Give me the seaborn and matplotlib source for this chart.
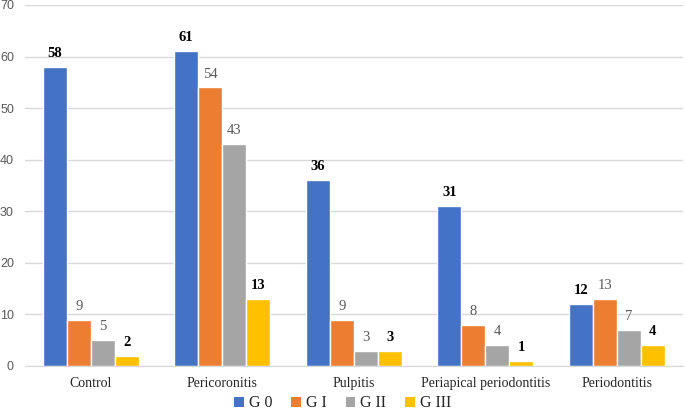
import pandas as pd
import seaborn as sns
import matplotlib.pyplot as plt
from matplotlib.patches import Patch

categories = ["Control", "Pericoronitis", "Pulpitis", "Periapical periodontitis", "Periodontitis"]
grades = ["G 0", "G I", "G II", "G III"]
g0 = [58, 61, 36, 31, 12]
g1 = [9, 54, 9, 8, 13]
g2 = [5, 43, 3, 4, 7]
g3 = [2, 13, 3, 1, 4]

colors = ["#4472C4", "#ED7D31", "#A5A5A5", "#FFC000"]

rows = []
for grade, vals in zip(grades, [g0, g1, g2, g3]):
    for cat, v in zip(categories, vals):
        rows.append({"category": cat, "grade": grade, "value": v})
df = pd.DataFrame(rows)

sns.set_style("white")
fig = plt.figure(figsize=(6.85, 4.11), dpi=100)
ax = fig.add_axes([0.0365, 0.1095, 0.96, 0.8785])

sns.barplot(
    data=df,
    x="category",
    y="value",
    hue="grade",
    hue_order=grades,
    order=categories,
    palette=colors,
    saturation=1,
    width=0.73,
    edgecolor="white",
    linewidth=1,
    legend=False,
    ax=ax,
)

label_styles = [("black", "bold"), ("#595959", "normal"), ("#595959", "normal"), ("black", "bold")]
for cont, (c, w) in zip(ax.containers, label_styles):
    ax.bar_label(cont, padding=5, fontsize=10.5, color=c, fontweight=w, family="Liberation Serif")

ax.set_ylim(0, 70)
ax.set_yticks(range(0, 71, 10))
ax.set_xlim(-0.5, 4.5)
ax.yaxis.grid(True, color="#D9D9D9", linewidth=1)
ax.set_axisbelow(True)
ax.set_xlabel("")
ax.set_ylabel("")
for s in ["left", "right", "top"]:
    ax.spines[s].set_visible(False)
ax.spines["bottom"].set_color("#D9D9D9")
ax.tick_params(axis="y", length=0, labelsize=9, labelcolor="#595959", pad=8)
for t in ax.get_yticklabels():
    t.set_family("Liberation Sans")
ax.tick_params(axis="x", length=0, pad=8)
for t in ax.get_xticklabels():
    t.set_family("Liberation Serif")
    t.set_fontsize(10)

handles = [Patch(facecolor=c, edgecolor="none") for c in colors]
fig.legend(
    handles,
    grades,
    loc="lower center",
    bbox_to_anchor=(0.5, -0.036),
    ncol=4,
    frameon=False,
    handlelength=0.6,
    handleheight=0.6,
    handletextpad=0.3,
    columnspacing=1.2,
    prop={"family": "Liberation Serif", "size": 11.5},
)

fig.savefig("out.png", dpi=100)
